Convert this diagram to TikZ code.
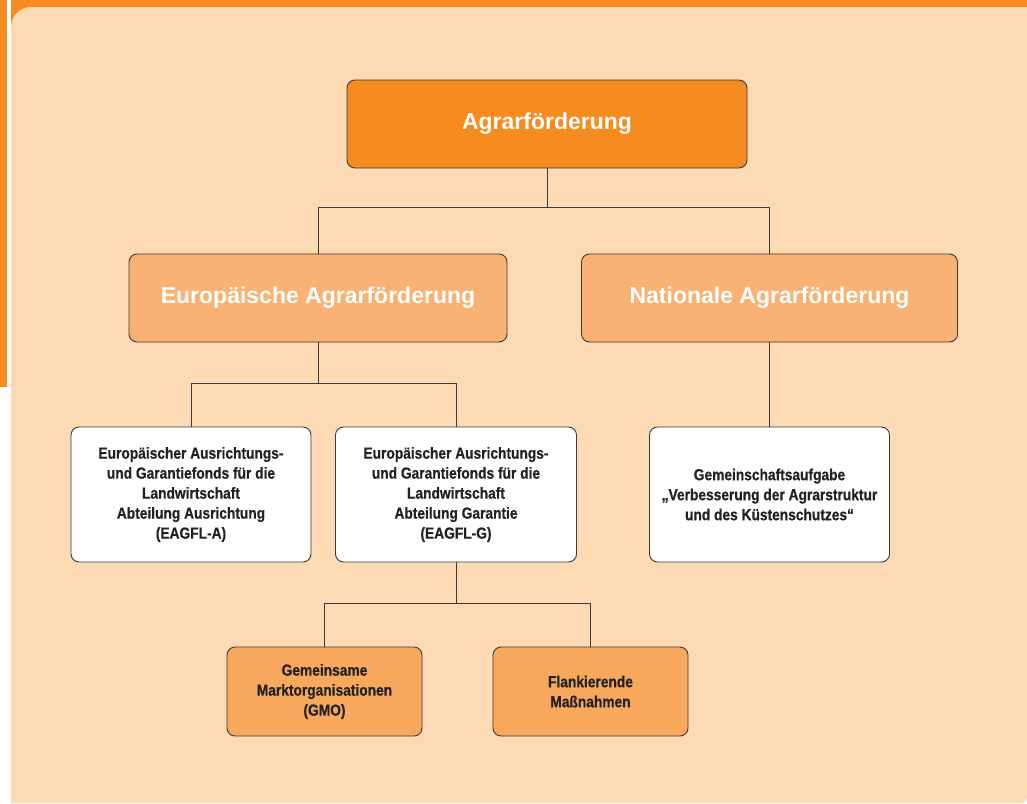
\documentclass[tikz,border=0pt]{standalone}
\usepackage{fontspec}
\setmainfont{Liberation Sans}
\newfontfamily\condfont[FakeStretch=0.86,FakeBold=0.6]{Liberation Sans}
\definecolor{orangemain}{HTML}{F68B1F}
\definecolor{peach}{HTML}{FDD9B4}
\definecolor{midorange}{HTML}{F9B273}
\definecolor{loworange}{HTML}{F7A85D}
\definecolor{lineclr}{HTML}{3A3A3A}
\definecolor{txtclr}{HTML}{222222}
\tikzset{
  boxbase/.style={draw=lineclr, line width=0.9pt, rounded corners=8pt, align=center, inner sep=0pt},
  headbox/.style={boxbase, text=white, font=\fontsize{23}{26}\selectfont\bfseries},
  smallbox/.style={boxbase, text=txtclr, font=\condfont\fontsize{16}{20}\selectfont\bfseries},
  conn/.style={draw=lineclr, line width=0.9pt}
}
\begin{document}
\begin{tikzpicture}[x=1pt,y=-1pt]
\useasboundingbox (0,0) rectangle (1027,803);
\fill[white] (0,0) rectangle (1027,803);
\fill[orangemain] (0,0) rectangle (7,387);
\fill[orangemain] (11,0) rectangle (1027,40);
\fill[peach] (11,803) [rounded corners=20pt] -- (11,7) [sharp corners] -- (1027,7) [rounded corners=6pt] -- (1027,803) [sharp corners] -- cycle;

\node[headbox, fill=orangemain, minimum width=400pt, minimum height=88pt] (top) at (547,124) {Agrarförderung};
\node[headbox, fill=midorange, minimum width=378pt, minimum height=88pt] (euro) at (318,298) {Europäische Agrarförderung};
\node[headbox, fill=midorange, minimum width=376pt, minimum height=88pt] (nat) at (769.5,298) {Nationale Agrarförderung};

\node[smallbox, fill=white, minimum width=240pt, minimum height=135pt] (ea) at (191,494.5) {Europäischer Ausrichtungs-\\und Garantiefonds für die\\Landwirtschaft\\Abteilung Ausrichtung\\(EAGFL-A)};
\node[smallbox, fill=white, minimum width=241pt, minimum height=135pt] (eg) at (456,494.5) {Europäischer Ausrichtungs-\\und Garantiefonds für die\\Landwirtschaft\\Abteilung Garantie\\(EAGFL-G)};
\node[smallbox, fill=white, minimum width=240pt, minimum height=135pt] (gem) at (769.5,494.5) {Gemeinschaftsaufgabe\\„Verbesserung der Agrarstruktur\\und des Küstenschutzes“};

\node[smallbox, fill=loworange, minimum width=195pt, minimum height=89pt] (gmo) at (324.5,691.5) {Gemeinsame\\Marktorganisationen\\(GMO)};
\node[smallbox, fill=loworange, minimum width=195pt, minimum height=89pt] (flank) at (590.5,691.5) {Flankierende\\Maßnahmen};

\coordinate (y1) at (0,207);
\coordinate (y2) at (0,383);
\coordinate (y3) at (0,603);
\draw[conn] (top.south) -- (top.south |- y1);
\draw[conn] (euro.north) -- (euro.north |- y1) -- (nat.north |- y1) -- (nat.north);
\draw[conn] (euro.south) -- (euro.south |- y2);
\draw[conn] (ea.north) -- (ea.north |- y2) -- (eg.north |- y2) -- (eg.north);
\draw[conn] (nat.south) -- (gem.north);
\draw[conn] (eg.south) -- (eg.south |- y3);
\draw[conn] (gmo.north) -- (gmo.north |- y3) -- (flank.north |- y3) -- (flank.north);
\end{tikzpicture}
\end{document}
